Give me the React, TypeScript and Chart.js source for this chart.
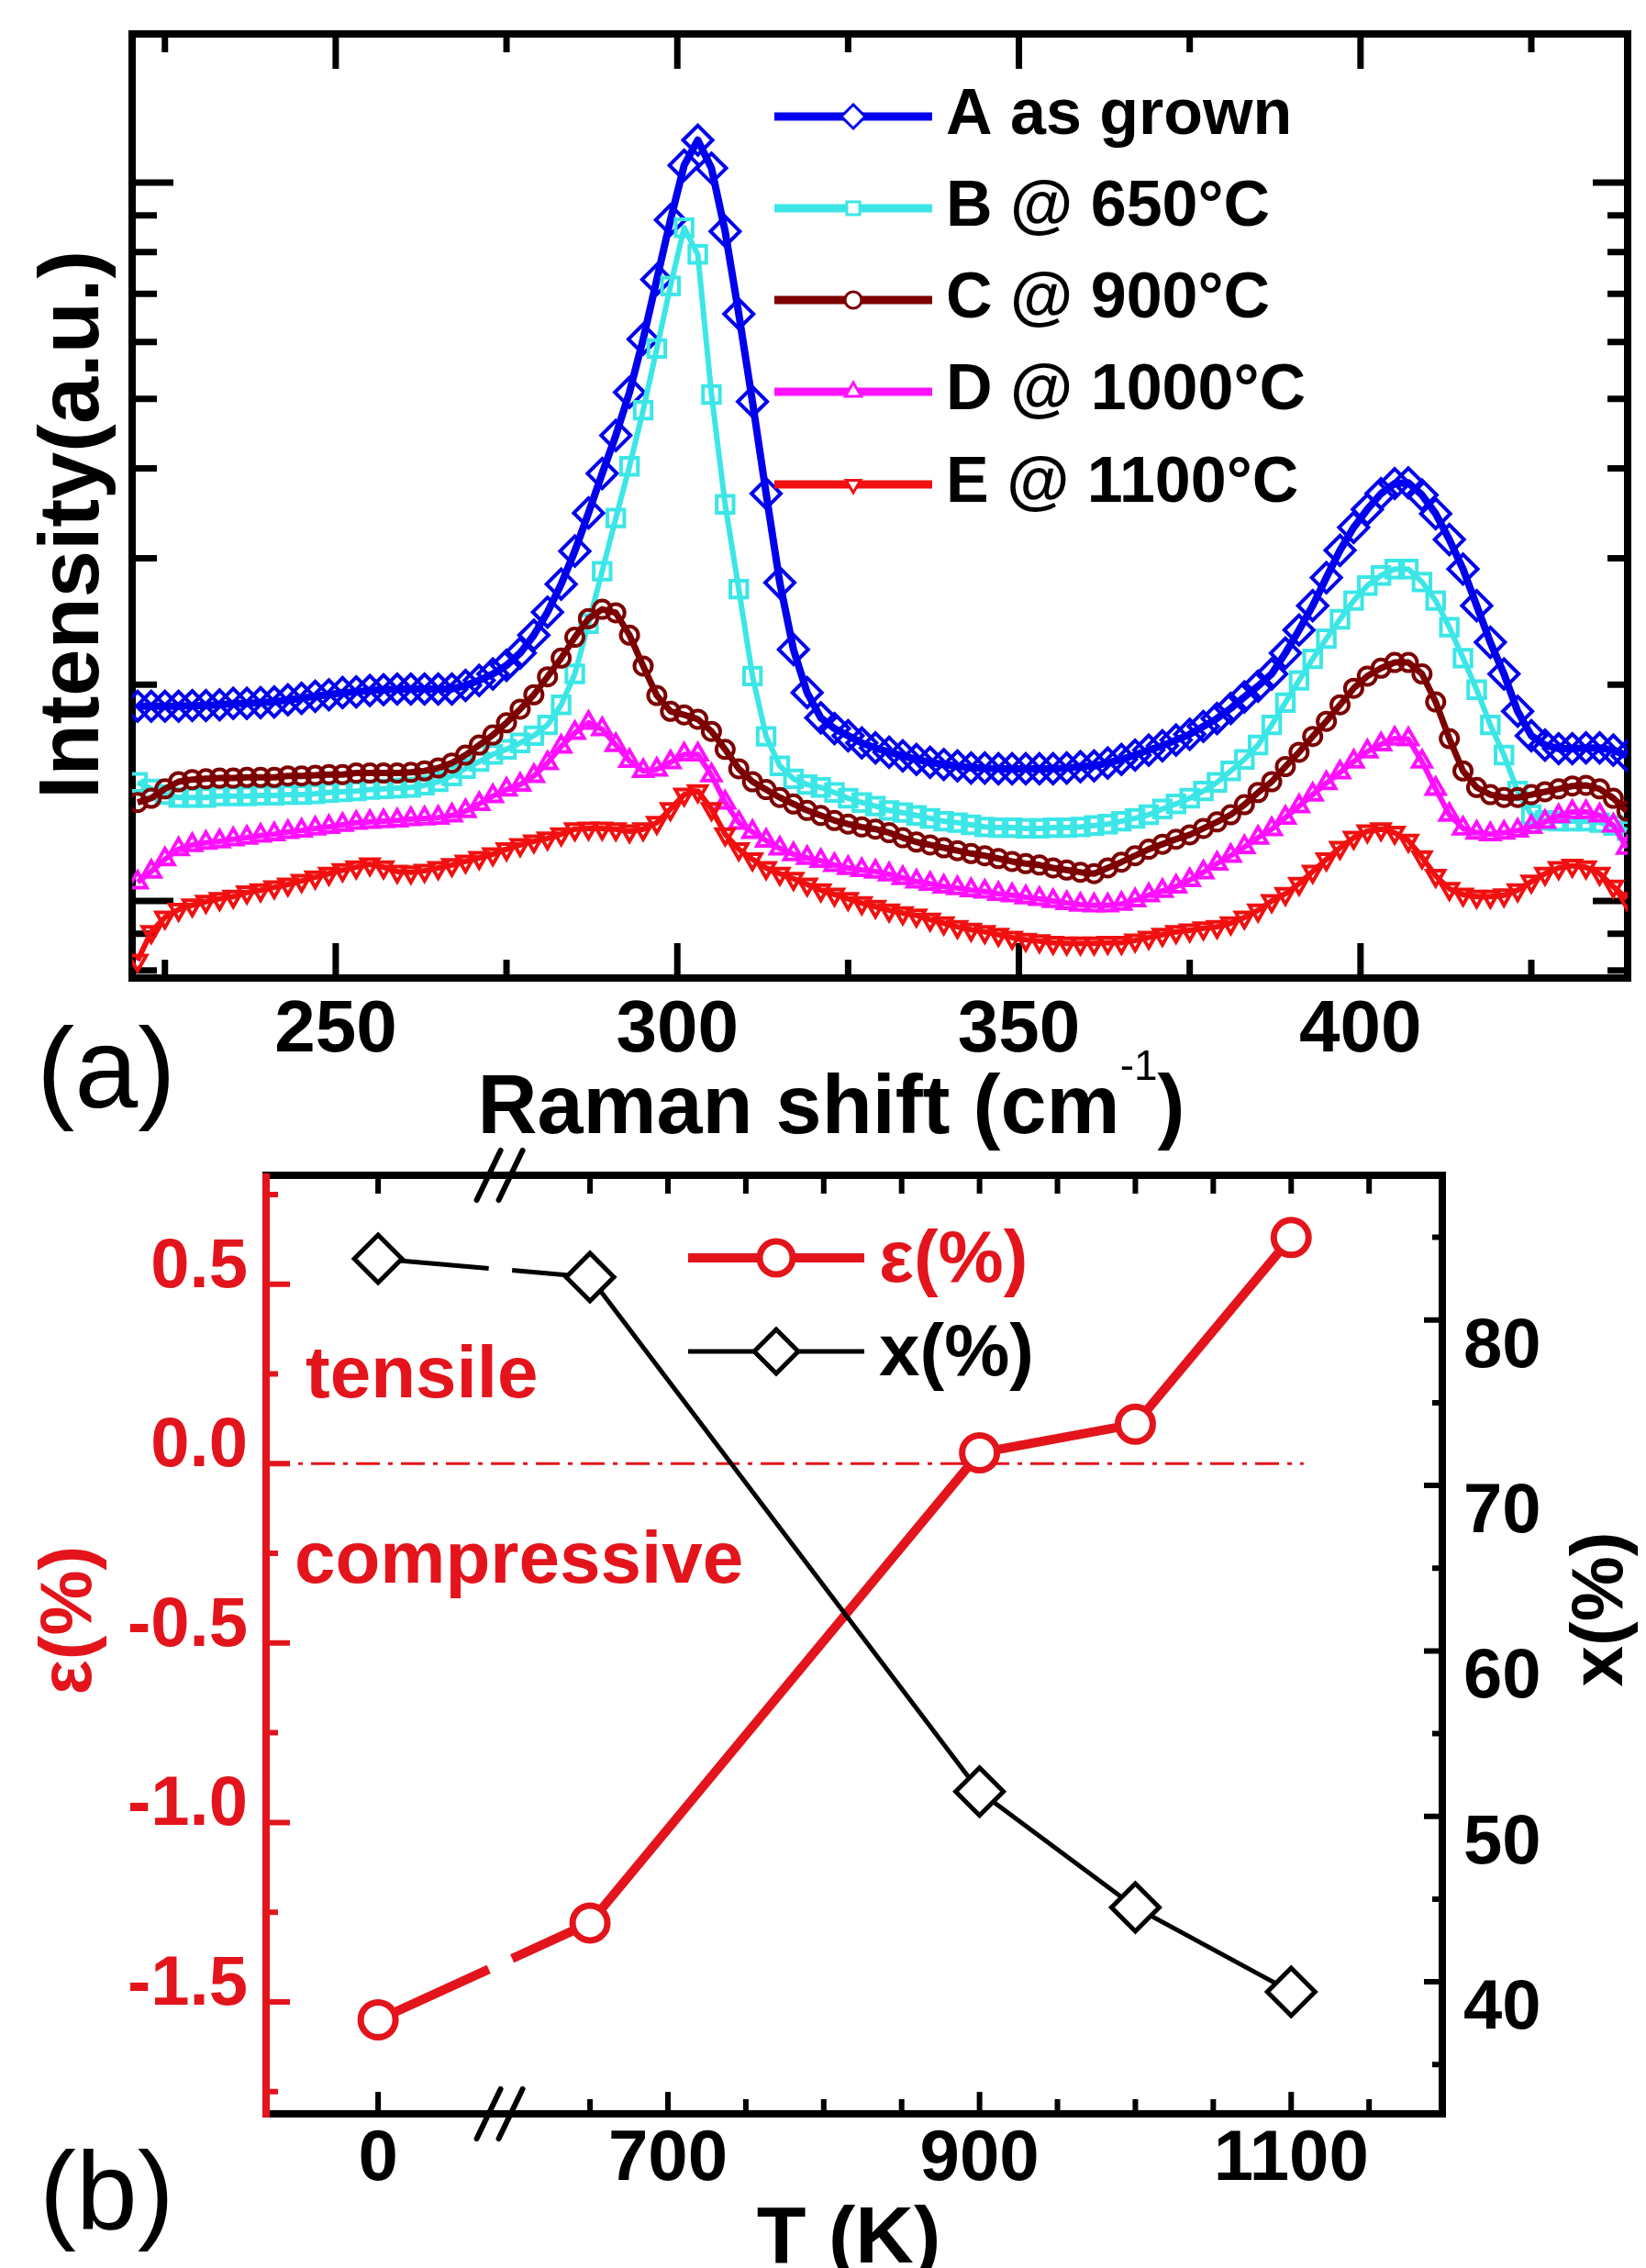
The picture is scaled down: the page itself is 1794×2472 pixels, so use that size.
import { useEffect, useRef } from 'react';
import { Chart, registerables } from 'chart.js';

Chart.register(...registerables);

const FONT = '"Liberation Sans", Arial, Helvetica, sans-serif';
const RED = '#e3141b';
const BLACK = '#000000';

// ================= Panel (a): Raman spectra =================
// Raman shift (cm^-1) sampling positions
const ramanShift = [
  221, 223, 225, 227, 229, 231, 233, 235, 237, 239,
  241, 243, 245, 247, 249, 251, 253, 255, 257, 259,
  261, 263, 265, 267, 269, 271, 273, 275, 277, 279,
  281, 283, 285, 287, 289, 291, 293, 295, 297, 299,
  301, 303, 305, 307, 309, 311, 313, 315, 317, 319,
  321, 323, 325, 327, 329, 331, 333, 335, 337, 339,
  341, 343, 345, 347, 349, 351, 353, 355, 357, 359,
  361, 363, 365, 367, 369, 371, 373, 375, 377, 379,
  381, 383, 385, 387, 389, 391, 393, 395, 397, 399,
  401, 403, 405, 407, 409, 411, 413, 415, 417, 419,
  421, 423, 425, 427, 429, 431, 433, 435, 437, 439,
];

// log10 of the intensity (a.u.)
const logIntensityA = [
  0.271, 0.271, 0.271, 0.271, 0.272, 0.272, 0.273, 0.275, 0.275, 0.276,
  0.277, 0.280, 0.282, 0.285, 0.287, 0.290, 0.291, 0.293, 0.294, 0.295,
  0.295, 0.295, 0.295, 0.295, 0.300, 0.307, 0.316, 0.328, 0.345, 0.370,
  0.402, 0.441, 0.487, 0.540, 0.595, 0.648, 0.708, 0.782, 0.865, 0.948,
  1.024, 1.059, 1.020, 0.932, 0.817, 0.695, 0.567, 0.443, 0.350, 0.290,
  0.255, 0.240, 0.230, 0.220, 0.213, 0.207, 0.202, 0.197, 0.193, 0.190,
  0.188, 0.185, 0.185, 0.184, 0.184, 0.184, 0.184, 0.184, 0.185, 0.187,
  0.188, 0.192, 0.197, 0.203, 0.210, 0.216, 0.224, 0.232, 0.243, 0.254,
  0.268, 0.284, 0.299, 0.316, 0.345, 0.377, 0.411, 0.450, 0.488, 0.520,
  0.545, 0.567, 0.581, 0.582, 0.565, 0.539, 0.503, 0.462, 0.411, 0.360,
  0.316, 0.264, 0.230, 0.217, 0.212, 0.212, 0.213, 0.213, 0.210, 0.202,
];
const logIntensityB = [
  0.165, 0.156, 0.148, 0.144, 0.144, 0.144, 0.146, 0.146, 0.146, 0.147,
  0.147, 0.148, 0.148, 0.149, 0.151, 0.152, 0.153, 0.155, 0.156, 0.157,
  0.158, 0.161, 0.166, 0.174, 0.184, 0.194, 0.204, 0.211, 0.220, 0.230,
  0.245, 0.273, 0.316, 0.386, 0.459, 0.533, 0.605, 0.683, 0.769, 0.856,
  0.937, 0.900, 0.705, 0.552, 0.434, 0.313, 0.229, 0.188, 0.170, 0.162,
  0.158, 0.151, 0.143, 0.137, 0.132, 0.126, 0.123, 0.119, 0.115, 0.111,
  0.109, 0.106, 0.103, 0.102, 0.102, 0.101, 0.101, 0.102, 0.102, 0.103,
  0.105, 0.107, 0.111, 0.115, 0.120, 0.128, 0.135, 0.143, 0.153, 0.165,
  0.181, 0.197, 0.217, 0.245, 0.276, 0.307, 0.337, 0.365, 0.392, 0.418,
  0.439, 0.453, 0.462, 0.462, 0.444, 0.418, 0.381, 0.338, 0.294, 0.245,
  0.203, 0.153, 0.120, 0.112, 0.111, 0.111, 0.111, 0.109, 0.105, 0.098,
];
const logIntensityC = [
  0.137, 0.143, 0.156, 0.166, 0.169, 0.170, 0.171, 0.171, 0.172, 0.172,
  0.172, 0.174, 0.174, 0.175, 0.176, 0.176, 0.178, 0.178, 0.178, 0.178,
  0.179, 0.181, 0.185, 0.192, 0.203, 0.217, 0.231, 0.248, 0.267, 0.287,
  0.312, 0.338, 0.367, 0.393, 0.406, 0.401, 0.370, 0.327, 0.286, 0.264,
  0.259, 0.253, 0.236, 0.211, 0.184, 0.166, 0.155, 0.144, 0.135, 0.126,
  0.119, 0.112, 0.107, 0.103, 0.100, 0.095, 0.088, 0.082, 0.078, 0.074,
  0.070, 0.066, 0.063, 0.059, 0.055, 0.052, 0.050, 0.046, 0.043, 0.040,
  0.038, 0.046, 0.054, 0.063, 0.072, 0.079, 0.086, 0.092, 0.101, 0.110,
  0.120, 0.134, 0.151, 0.166, 0.187, 0.207, 0.229, 0.250, 0.273, 0.296,
  0.313, 0.324, 0.332, 0.332, 0.316, 0.277, 0.226, 0.181, 0.158, 0.148,
  0.144, 0.144, 0.148, 0.152, 0.156, 0.160, 0.161, 0.156, 0.143, 0.125,
];
const logIntensityD = [
  0.026, 0.041, 0.058, 0.072, 0.078, 0.081, 0.083, 0.086, 0.088, 0.091,
  0.093, 0.096, 0.098, 0.101, 0.103, 0.106, 0.109, 0.110, 0.111, 0.112,
  0.114, 0.115, 0.116, 0.119, 0.125, 0.135, 0.146, 0.155, 0.162, 0.174,
  0.192, 0.215, 0.234, 0.248, 0.239, 0.217, 0.195, 0.181, 0.183, 0.193,
  0.204, 0.204, 0.175, 0.137, 0.109, 0.096, 0.084, 0.073, 0.065, 0.060,
  0.056, 0.050, 0.046, 0.043, 0.041, 0.037, 0.032, 0.027, 0.024, 0.020,
  0.018, 0.015, 0.013, 0.010, 0.008, 0.005, 0.003, 0.000, -0.003, -0.005,
  -0.006, -0.006, -0.004, 0.001, 0.008, 0.014, 0.020, 0.029, 0.040, 0.052,
  0.063, 0.075, 0.088, 0.100, 0.116, 0.132, 0.148, 0.164, 0.179, 0.194,
  0.208, 0.218, 0.226, 0.225, 0.194, 0.156, 0.120, 0.101, 0.095, 0.093,
  0.095, 0.098, 0.103, 0.110, 0.118, 0.124, 0.124, 0.119, 0.105, 0.074,
];
const logIntensityE = [
  -0.083, -0.043, -0.023, -0.012, -0.006, -0.001, 0.003, 0.006, 0.012, 0.015,
  0.019, 0.023, 0.028, 0.033, 0.038, 0.043, 0.047, 0.051, 0.047, 0.041,
  0.040, 0.042, 0.046, 0.050, 0.055, 0.060, 0.065, 0.072, 0.078, 0.083,
  0.087, 0.093, 0.100, 0.101, 0.101, 0.100, 0.097, 0.100, 0.109, 0.128,
  0.148, 0.153, 0.128, 0.093, 0.072, 0.058, 0.046, 0.038, 0.031, 0.023,
  0.015, 0.009, 0.003, -0.003, -0.008, -0.013, -0.017, -0.020, -0.026, -0.031,
  -0.036, -0.040, -0.043, -0.047, -0.051, -0.054, -0.056, -0.058, -0.059, -0.059,
  -0.059, -0.058, -0.058, -0.055, -0.051, -0.047, -0.043, -0.041, -0.038, -0.036,
  -0.031, -0.023, -0.013, 0.000, 0.010, 0.024, 0.041, 0.058, 0.074, 0.088,
  0.097, 0.100, 0.095, 0.084, 0.061, 0.035, 0.017, 0.009, 0.006, 0.006,
  0.008, 0.015, 0.027, 0.038, 0.046, 0.049, 0.047, 0.038, 0.020, 0.003,
];

const spectraLabels = ['A as grown', 'B @ 650°C', 'C @ 900°C', 'D @ 1000°C', 'E @ 1100°C'];
const spectraColors = ['#0000ee', '#3ce6e6', '#7d0000', '#ff10ff', '#f01010'];
const spectraMarkers = ['rectRot', 'rect', 'circle', 'triangle', 'triangle'];
const spectraMarkerRadius = [16, 13, 9.5, 11.5, 11];
const spectraMarkerRotation = [0, 0, 0, 0, 180];
const spectraLineWidth = [8, 6, 7, 6, 6];

const ramanMajorTicks = [250, 300, 350, 400];
const ramanMinorTicks = [225, 275, 325, 375, 425];
const intensityMajorTicks = [1, 10];
const intensityMinorTicks = [0.8, 0.9, 2, 3, 4, 5, 6, 7, 8, 9];

// ================= Panel (b): strain and composition =================
const temperatureK = [0, 650, 900, 1000, 1100];
const strainPct = [-1.55, -1.28, 0.03, 0.11, 0.63];
const compositionPct = [83.7, 82.6, 51.5, 44.5, 39.4];

const temperatureMajorTicks = [0, 700, 900, 1100];
const temperatureMinorTicks = [650, 750, 800, 850, 950, 1000, 1050, 1150];
const strainMajorTicks = [-1.5, -1, -0.5, 0, 0.5];
const strainMinorTicks = [-1.75, -1.25, -0.75, -0.25, 0.25, 0.75];
const compositionMajorTicks = [40, 50, 60, 70, 80];
const compositionMinorTicks = [35, 45, 55, 65, 75, 85];

// broken temperature axis: 0 K sits left of the break
const ZERO_K_POS = 514;
const BREAK_POS = 592;
const BREAK_GAP = [585, 600];
const ZERO_LINE_END = 1108;
const tAxis = (t: number) => (t === 0 ? ZERO_K_POS : t);

// ================= helpers =================
function drawMarker(ctx: CanvasRenderingContext2D, style: string, x: number, y: number, r: number, rot = 0) {
  ctx.beginPath();
  if (style === 'circle') {
    ctx.arc(x, y, r, 0, Math.PI * 2);
  } else if (style === 'rectRot') {
    ctx.moveTo(x, y - r); ctx.lineTo(x + r, y); ctx.lineTo(x, y + r); ctx.lineTo(x - r, y); ctx.closePath();
  } else if (style === 'rect') {
    const s = r * Math.SQRT1_2;
    ctx.rect(x - s, y - s, 2 * s, 2 * s);
  } else if (style === 'triangle') {
    const d = rot ? -1 : 1;
    ctx.moveTo(x, y - d * r);
    ctx.lineTo(x + r * 0.866, y + d * r * 0.5);
    ctx.lineTo(x - r * 0.866, y + d * r * 0.5);
    ctx.closePath();
  }
  ctx.fill();
  ctx.stroke();
}

const frameTicksPlugin = {
  id: 'frameTicks',
  beforeDatasetsDraw(chart: any, _a: any, opts: any) {
    const { ctx, chartArea: a } = chart;
    ctx.save();
    for (const t of opts.ticks) {
      const s = chart.scales[t.scale];
      ctx.strokeStyle = t.color || BLACK;
      ctx.lineWidth = t.width || 6;
      ctx.lineCap = 'butt';
      ctx.beginPath();
      for (const v of t.values) {
        const p = s.getPixelForValue(v);
        if (t.side === 'left') { ctx.moveTo(a.left, p); ctx.lineTo(a.left + t.len, p); }
        else if (t.side === 'right') { ctx.moveTo(a.right, p); ctx.lineTo(a.right - t.len, p); }
        else if (t.side === 'top') { ctx.moveTo(p, a.top); ctx.lineTo(p, a.top + t.len); }
        else { ctx.moveTo(p, a.bottom); ctx.lineTo(p, a.bottom - t.len); }
      }
      ctx.stroke();
    }
    const c = opts.colors;
    ctx.lineWidth = opts.lineWidth;
    ctx.lineCap = 'square';
    const seg = (x1: number, y1: number, x2: number, y2: number, col: string) => {
      ctx.strokeStyle = col; ctx.beginPath(); ctx.moveTo(x1, y1); ctx.lineTo(x2, y2); ctx.stroke();
    };
    seg(a.left, a.top, a.right, a.top, c.top);
    seg(a.right, a.top, a.right, a.bottom, c.right);
    seg(a.left, a.bottom, a.right, a.bottom, c.bottom);
    ctx.lineCap = 'butt';
    seg(a.left, a.top - 2, a.left, a.bottom + 4, c.left);
    ctx.restore();
  },
};

const panelTextPlugin = {
  id: 'panelText',
  afterDraw(chart: any, _a: any, opts: any) {
    const ctx = chart.ctx as CanvasRenderingContext2D;
    for (const it of opts.items) {
      ctx.save();
      ctx.fillStyle = it.color || BLACK;
      ctx.translate(it.x, it.y);
      if (it.rotate) ctx.rotate((it.rotate * Math.PI) / 180);
      const mainFont = `${it.weight || 'bold'} ${it.size}px ${FONT}`;
      ctx.font = mainFont;
      ctx.textBaseline = it.baseline || 'alphabetic';
      if (it.sup) {
        const supFont = `${it.sup.weight || 'normal'} ${it.sup.size}px ${FONT}`;
        const w1 = ctx.measureText(it.text).width;
        const w3 = ctx.measureText(it.tail).width;
        ctx.font = supFont;
        const w2 = ctx.measureText(it.sup.text).width;
        let x = -(w1 + w2 + w3) / 2;
        ctx.textAlign = 'left';
        ctx.font = mainFont; ctx.fillText(it.text, x, 0); x += w1;
        ctx.font = supFont; ctx.fillText(it.sup.text, x, it.sup.dy); x += w2;
        ctx.font = mainFont; ctx.fillText(it.tail, x, 0);
      } else {
        ctx.textAlign = it.align || 'left';
        ctx.fillText(it.text, 0, 0);
      }
      ctx.restore();
    }
  },
};

const lineLegendPlugin = {
  id: 'lineLegend',
  afterDatasetsDraw(chart: any, _a: any, o: any) {
    const ctx = chart.ctx as CanvasRenderingContext2D;
    ctx.save();
    for (const r of o.rows) {
      ctx.strokeStyle = r.color;
      ctx.lineWidth = r.lineWidth;
      ctx.lineCap = 'butt';
      ctx.beginPath(); ctx.moveTo(o.x1, r.y); ctx.lineTo(o.x2, r.y); ctx.stroke();
      ctx.lineWidth = r.markerWidth;
      ctx.fillStyle = '#ffffff';
      drawMarker(ctx, r.style, o.mx, r.y, r.radius, r.rotation || 0);
      ctx.fillStyle = r.textColor || BLACK;
      ctx.font = `bold ${o.size}px ${FONT}`;
      ctx.textAlign = 'left';
      ctx.textBaseline = 'middle';
      ctx.fillText(r.label, o.tx, r.y + (o.textDy || 0));
    }
    ctx.restore();
  },
};

const axisBreakPlugin = {
  id: 'axisBreak',
  afterDraw(chart: any, _a: any, o: any) {
    const { ctx, chartArea: a } = chart;
    const cx = chart.scales.x.getPixelForValue(o.at);
    ctx.save();
    ctx.strokeStyle = BLACK;
    ctx.lineWidth = 6;
    ctx.lineCap = 'round';
    for (const y of [a.top, a.bottom]) {
      for (const off of [-12, 12]) {
        ctx.beginPath();
        ctx.moveTo(cx + off - 13, y + 27);
        ctx.lineTo(cx + off + 13, y - 27);
        ctx.stroke();
      }
    }
    ctx.restore();
  },
};

const breakGapDash = (ctx: any) => {
  const xs = ctx.chart.scales.x;
  const g0 = xs.getPixelForValue(BREAK_GAP[0]);
  const g1 = xs.getPixelForValue(BREAK_GAP[1]);
  const { p0, p1 } = ctx;
  if (!(p0.x < g0 && p1.x > g1)) return undefined;
  const dx = p1.x - p0.x;
  const len = Math.hypot(dx, p1.y - p0.y);
  return [(len * (g0 - p0.x)) / dx, (len * (g1 - g0)) / dx, len + 10];
};

// ================= chart configs =================
function spectraConfig(): any {
  const logs = [logIntensityA, logIntensityB, logIntensityC, logIntensityD, logIntensityE];
  return {
    type: 'line',
    data: {
      datasets: logs.map((arr, i) => ({
        label: spectraLabels[i],
        data: ramanShift.map((x, k) => ({ x, y: Math.pow(10, arr[k]) })),
        borderColor: spectraColors[i],
        borderWidth: spectraLineWidth[i],
        borderJoinStyle: 'round',
        backgroundColor: 'transparent',
        fill: false,
        tension: 0,
        pointStyle: spectraMarkers[i],
        pointRadius: spectraMarkerRadius[i],
        pointRotation: spectraMarkerRotation[i],
        pointBorderWidth: 4,
        pointBorderColor: spectraColors[i],
        pointBackgroundColor: 'rgba(255,255,255,0)',
        order: 5 - i,
      })),
    },
    options: {
      responsive: false,
      animation: false,
      devicePixelRatio: 1,
      events: [],
      layout: { padding: { top: 37, right: 6, left: 0, bottom: 0 } },
      scales: {
        x: {
          type: 'linear',
          position: 'bottom',
          min: 220.2,
          max: 439.1,
          afterBuildTicks: (s: any) => {
            s.ticks = [...ramanMajorTicks, ...ramanMinorTicks].sort((a, b) => a - b).map((v) => ({ value: v }));
          },
          ticks: {
            callback: (v: number) => (ramanMajorTicks.includes(v) ? String(v) : ''),
            font: { family: FONT, size: 80, weight: 'bold' },
            color: BLACK,
            padding: 10,
            maxRotation: 0,
            minRotation: 0,
            autoSkip: false,
          },
          grid: { display: false, drawTicks: false },
          border: { display: false },
          afterFit: (s: any) => { s.height = 204; s.paddingLeft = 0; s.paddingRight = 0; },
        },
        y: {
          type: 'logarithmic',
          position: 'left',
          min: 0.7811,
          max: 16.1,
          afterBuildTicks: (s: any) => {
            s.ticks = [...intensityMinorTicks, ...intensityMajorTicks].sort((a, b) => a - b).map((v) => ({ value: v }));
          },
          ticks: { display: false },
          grid: { display: false, drawTicks: false },
          border: { display: false },
          afterFit: (s: any) => { s.width = 144; s.paddingTop = 0; s.paddingBottom = 0; },
        },
      },
      plugins: {
        legend: { display: false },
        tooltip: { enabled: false },
        frameTicks: {
          lineWidth: 8,
          colors: { top: BLACK, right: BLACK, bottom: BLACK, left: BLACK },
          ticks: [
            { scale: 'x', side: 'bottom', values: ramanMajorTicks, len: 38, width: 7 },
            { scale: 'x', side: 'bottom', values: ramanMinorTicks, len: 20, width: 7 },
            { scale: 'x', side: 'top', values: ramanMajorTicks, len: 38, width: 7 },
            { scale: 'x', side: 'top', values: ramanMinorTicks, len: 20, width: 7 },
            { scale: 'y', side: 'left', values: intensityMajorTicks, len: 45, width: 7 },
            { scale: 'y', side: 'left', values: intensityMinorTicks, len: 27, width: 7 },
            { scale: 'y', side: 'right', values: intensityMajorTicks, len: 38, width: 7 },
            { scale: 'y', side: 'right', values: intensityMinorTicks, len: 22, width: 7 },
          ],
        },
        lineLegend: {
          x1: 844, x2: 1016, mx: 930, tx: 1031, size: 70, textDy: 0,
          rows: spectraLabels.map((label, i) => ({
            label,
            y: [127, 227, 327, 427, 528][i],
            color: spectraColors[i],
            lineWidth: 9,
            markerWidth: 3,
            style: spectraMarkers[i],
            radius: [13, 10, 9, 10, 9][i],
            rotation: spectraMarkerRotation[i],
          })),
        },
        panelText: {
          items: [
            { text: 'Intensity(a.u.)', x: 82, y: 572, size: 92, rotate: -90, align: 'center', baseline: 'middle' },
            { text: '(a)', x: 40, y: 1207, size: 124, weight: 'normal' },
            {
              text: 'Raman shift (cm', x: 906, y: 1235, size: 90,
              sup: { text: '-1', size: 46, dy: -58, weight: 'normal' }, tail: ')',
            },
          ],
        },
      },
    },
    plugins: [frameTicksPlugin, lineLegendPlugin, panelTextPlugin],
  };
}

function strainConfig(): any {
  return {
    type: 'line',
    data: {
      datasets: [
        {
          label: 'zero strain',
          data: [{ x: 442.1, y: 0 }, { x: ZERO_LINE_END, y: 0 }],
          yAxisID: 'yE',
          borderColor: RED,
          borderWidth: 3,
          borderDash: [26, 9, 5, 9],
          pointRadius: 0,
          fill: false,
          order: 3,
        },
        {
          label: 'ε(%)',
          data: temperatureK.map((t, i) => ({ x: tAxis(t), y: strainPct[i] })),
          yAxisID: 'yE',
          borderColor: RED,
          borderWidth: 10,
          pointStyle: 'circle',
          pointRadius: 19,
          pointBorderWidth: 7,
          pointBorderColor: RED,
          pointBackgroundColor: '#ffffff',
          fill: false,
          tension: 0,
          segment: { borderDash: breakGapDash },
          order: 2,
        },
        {
          label: 'x(%)',
          data: temperatureK.map((t, i) => ({ x: tAxis(t), y: compositionPct[i] })),
          yAxisID: 'yX',
          borderColor: BLACK,
          borderWidth: 5,
          pointStyle: 'rectRot',
          pointRadius: 26,
          pointBorderWidth: 5,
          pointBorderColor: BLACK,
          pointBackgroundColor: '#ffffff',
          fill: false,
          tension: 0,
          segment: { borderDash: breakGapDash },
          order: 1,
        },
      ],
    },
    options: {
      responsive: false,
      animation: false,
      devicePixelRatio: 1,
      events: [],
      layout: { padding: { top: 23, right: 0, left: 0, bottom: 0 } },
      scales: {
        x: {
          type: 'linear',
          position: 'bottom',
          min: 442.1,
          max: 1197,
          afterBuildTicks: (s: any) => {
            s.ticks = [ZERO_K_POS, ...temperatureMinorTicks, ...temperatureMajorTicks.filter((t) => t !== 0)]
              .sort((a, b) => a - b)
              .map((v) => ({ value: v }));
          },
          ticks: {
            callback: (v: number) =>
              v === ZERO_K_POS ? '0' : temperatureMajorTicks.includes(v) ? String(v) : '',
            font: { family: FONT, size: 78, weight: 'bold' },
            color: BLACK,
            padding: 4,
            maxRotation: 0,
            minRotation: 0,
            autoSkip: false,
          },
          grid: { display: false, drawTicks: false },
          border: { display: false },
          afterFit: (s: any) => { s.height = 168; s.paddingLeft = 0; s.paddingRight = 0; },
        },
        yE: {
          type: 'linear',
          position: 'left',
          min: -1.812,
          max: 0.8034,
          afterBuildTicks: (s: any) => { s.ticks = strainMajorTicks.map((v) => ({ value: v })); },
          ticks: {
            callback: (v: number) => Number(v).toFixed(1),
            font: { family: FONT, size: 76, weight: 'bold' },
            color: RED,
            padding: 20,
            labelOffset: -18,
            autoSkip: false,
          },
          grid: { display: false, drawTicks: false },
          border: { display: false },
          afterFit: (s: any) => { s.width = 290; s.paddingTop = 0; s.paddingBottom = 0; },
        },
        yX: {
          type: 'linear',
          position: 'right',
          min: 32.02,
          max: 88.75,
          afterBuildTicks: (s: any) => { s.ticks = compositionMajorTicks.map((v) => ({ value: v })); },
          ticks: {
            callback: (v: number) => String(v),
            font: { family: FONT, size: 76, weight: 'bold' },
            color: BLACK,
            padding: 23,
            labelOffset: 30,
            autoSkip: false,
          },
          grid: { display: false, drawTicks: false },
          border: { display: false },
          afterFit: (s: any) => { s.width = 222; s.paddingTop = 0; s.paddingBottom = 0; },
        },
      },
      plugins: {
        legend: { display: false },
        tooltip: { enabled: false },
        frameTicks: {
          lineWidth: 8,
          colors: { top: BLACK, right: BLACK, bottom: BLACK, left: RED },
          ticks: [
            { scale: 'x', side: 'bottom', values: temperatureMajorTicks.map(tAxis), len: 24, width: 6 },
            { scale: 'x', side: 'bottom', values: temperatureMinorTicks, len: 16, width: 6 },
            { scale: 'x', side: 'top', values: temperatureMajorTicks.map(tAxis), len: 20, width: 6 },
            { scale: 'x', side: 'top', values: temperatureMinorTicks, len: 20, width: 6 },
            { scale: 'yE', side: 'left', values: strainMajorTicks, len: 26, width: 6, color: RED },
            { scale: 'yE', side: 'left', values: strainMinorTicks, len: 13, width: 6, color: RED },
            { scale: 'yX', side: 'right', values: compositionMajorTicks, len: 20, width: 6 },
            { scale: 'yX', side: 'right', values: compositionMinorTicks, len: 11, width: 6 },
          ],
        },
        axisBreak: { at: BREAK_POS },
        lineLegend: {
          x1: 750, x2: 942, mx: 846, tx: 958, size: 80, textDy: 4,
          rows: [
            { label: 'ε(%)', y: 121, color: RED, textColor: RED, lineWidth: 10, markerWidth: 7, style: 'circle', radius: 18 },
            { label: 'x(%)', y: 223, color: BLACK, lineWidth: 5, markerWidth: 5, style: 'rectRot', radius: 24 },
          ],
        },
        panelText: {
          items: [
            { text: 'tensile', x: 333, y: 273, size: 80, color: RED },
            { text: 'compressive', x: 321, y: 475, size: 80, color: RED },
            { text: '(b)', x: 43, y: 1179, size: 120, weight: 'normal' },
            { text: 'T (K)', x: 925, y: 1216, size: 88, align: 'center' },
            { text: 'ε(%)', x: 77, y: 516, size: 80, color: RED, rotate: -90, align: 'center', baseline: 'middle' },
            { text: 'x(%)', x: 1746, y: 504, size: 80, rotate: -90, align: 'center', baseline: 'middle' },
          ],
        },
      },
    },
    plugins: [frameTicksPlugin, axisBreakPlugin, lineLegendPlugin, panelTextPlugin],
  };
}

function ChartCanvas({ make, width, height, top }: { make: () => any; width: number; height: number; top: number }) {
  const ref = useRef<HTMLCanvasElement | null>(null);
  useEffect(() => {
    if (!ref.current) return;
    const chart = new Chart(ref.current, make());
    return () => chart.destroy();
  }, [make]);
  return (
    <canvas
      ref={ref}
      width={width}
      height={height}
      style={{ position: 'absolute', left: 0, top, width, height }}
    />
  );
}

export default function App() {
  return (
    <div style={{ position: 'absolute', left: 0, top: 0, width: 1794, height: 2472, background: '#ffffff', overflow: 'hidden' }}>
      <ChartCanvas make={spectraConfig} width={1794} height={1270} top={0} />
      <ChartCanvas make={strainConfig} width={1794} height={1222} top={1250} />
    </div>
  );
}
